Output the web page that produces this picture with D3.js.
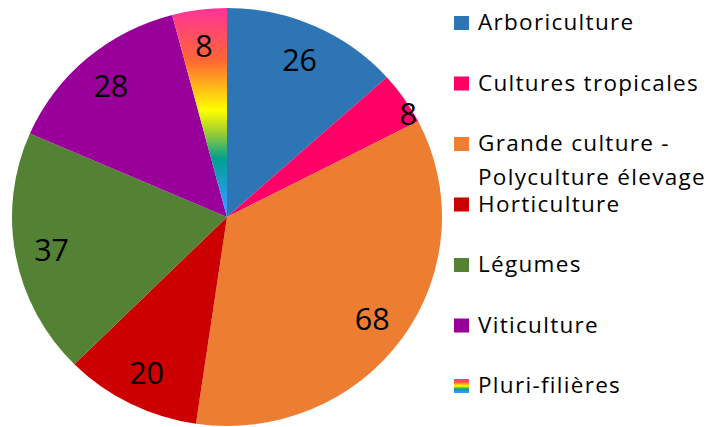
<!DOCTYPE html>
<html>
<head>
<meta charset="utf-8">
<script src="https://cdn.jsdelivr.net/npm/d3@7"></script>
<style>
  html, body { margin: 0; padding: 0; background: #fff; }
  svg { display: block; }
  text { font-family: "Open Sans", Lato, sans-serif; fill: #000; }
</style>
</head>
<body>
<svg id="chart" width="712" height="427"></svg>
<script>
// ---- data ----
const categories = ["Arboriculture", "Cultures tropicales", "Grande culture - Polyculture élevage", "Horticulture", "Légumes", "Viticulture", "Pluri-filières"];
const legendLines = [["Arboriculture"], ["Cultures tropicales"], ["Grande culture -", "Polyculture élevage"], ["Horticulture"], ["Légumes"], ["Viticulture"], ["Pluri-filières"]];
const values = [26, 8, 68, 20, 37, 28, 8];
const colors = ["#2E75B6", "#FF0066", "#ED7D31", "#CC0000", "#548235", "#990099", "url(#rainbow)"];
const rainbowStops = [
  {o: 0.00, c: "#FF3399"},
  {o: 0.25, c: "#FF6633"},
  {o: 0.49, c: "#FFFF00"},
  {o: 0.60, c: "#99CC33"},
  {o: 0.72, c: "#00A090"},
  {o: 0.95, c: "#3399FF"},
  {o: 1.00, c: "#3399FF"}
];

// ---- layout ----
const svg = d3.select("#chart");
const cx = 227, cy = 217, ry = 209, rx = 215;
const sx = rx / ry;

const defs = svg.append("defs");
const g1 = defs.append("linearGradient").attr("id", "rainbow")
  .attr("gradientUnits", "userSpaceOnUse")
  .attr("x1", 0).attr("x2", 0).attr("y1", -ry).attr("y2", 0);
g1.selectAll("stop").data(rainbowStops).join("stop")
  .attr("offset", d => d.o).attr("stop-color", d => d.c);
const g2 = defs.append("linearGradient").attr("id", "rainbowLegend")
  .attr("x1", 0).attr("x2", 0).attr("y1", 0).attr("y2", 1);
g2.selectAll("stop").data(rainbowStops).join("stop")
  .attr("offset", d => d.o).attr("stop-color", d => d.c);

const pie = d3.pie().sort(null).value(d => d)(values);
const arc = d3.arc().innerRadius(0).outerRadius(ry);

const pieG = svg.append("g").attr("transform", `translate(${cx},${cy}) scale(${sx},1)`);
pieG.selectAll("path").data(pie).join("path")
  .attr("d", arc)
  .attr("fill", (d, i) => colors[i]);

// labels (narrow "Cultures tropicales" slice gets its label pushed to the rim)
svg.append("g").selectAll("text").data(pie).join("text")
  .attr("text-anchor", "middle")
  .attr("dominant-baseline", "central")
  .attr("font-size", 30.5)
  .each(function(d, i) {
    const f = i === 1 ? 0.98 : 0.83;
    const shift = i === 1 ? 0.07 : 0;
    const a = (d.startAngle + d.endAngle) / 2 + shift;
    const x = Math.sin(a) * ry * f, y = -Math.cos(a) * ry * f;
    d3.select(this).attr("x", cx + x * sx).attr("y", cy + y);
  })
  .text(d => d.data);

// legend
const legX = 454, legY0 = 30, legStep = 60.5, lineH = 34;
const leg = svg.append("g");
const items = leg.selectAll("g").data(categories).join("g")
  .attr("transform", (d, i) => `translate(${legX},${legY0 + i * legStep})`);
items.append("rect")
  .attr("x", 0).attr("y", -14).attr("width", 15).attr("height", 14)
  .attr("fill", (d, i) => i === 6 ? "url(#rainbowLegend)" : colors[i]);
items.append("text")
  .attr("x", 24).attr("y", 0)
  .attr("font-size", 22.5)
  .attr("letter-spacing", 1.3)
  .selectAll("tspan").data((d, i) => legendLines[i]).join("tspan")
  .attr("x", 24).attr("dy", (d, j) => j === 0 ? 0 : lineH)
  .text(d => d);
</script>
</body>
</html>
